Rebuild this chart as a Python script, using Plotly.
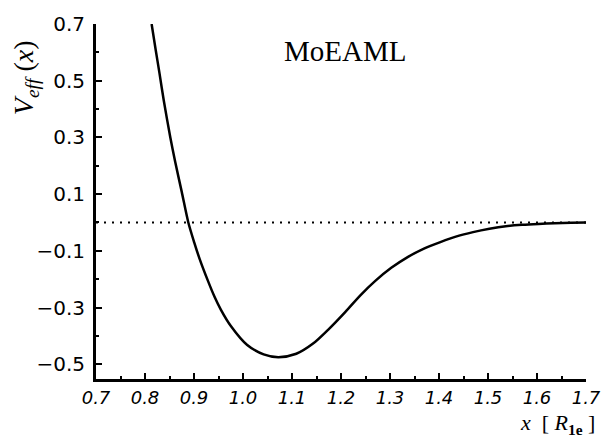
import plotly.graph_objects as go

# Effective potential curve
x_vals = [0.8135, 0.8215, 0.8297, 0.8383, 0.8517, 0.8617, 0.8750, 0.8884, 0.9004, 0.9118,
          0.9285, 0.9419, 0.9550, 0.9752, 1.0086, 1.0421, 1.0721, 1.1088, 1.1423, 1.1756,
          1.2090, 1.2400, 1.2700, 1.3026, 1.3360, 1.3693, 1.4028, 1.4360, 1.4695, 1.5030,
          1.5363, 1.5697, 1.6030, 1.6360, 1.6700, 1.7000]
v_eff = [0.700, 0.612, 0.525, 0.430, 0.300, 0.213, 0.108, 0.000, -0.070, -0.130,
         -0.206, -0.262, -0.308, -0.365, -0.432, -0.465, -0.475, -0.463, -0.428, -0.375,
         -0.315, -0.256, -0.206, -0.160, -0.122, -0.092, -0.069, -0.049, -0.034, -0.022,
         -0.013, -0.008, -0.005, -0.003, -0.001, 0.000]

# Zero reference line
zero_x = [0.7, 1.7]
zero_y = [0.0, 0.0]

x_ticks = [0.7, 0.8, 0.9, 1.0, 1.1, 1.2, 1.3, 1.4, 1.5, 1.6, 1.7]
y_ticks = [0.7, 0.5, 0.3, 0.1, -0.1, -0.3, -0.5]
label_text = "MoEAML"
label_pos = (1.209, 0.605)

fig = go.Figure()
fig.add_trace(go.Scatter(x=zero_x, y=zero_y, mode="lines",
                         line=dict(color="black", width=2, dash="2px,6px"),
                         hoverinfo="skip", showlegend=False))
fig.add_trace(go.Scatter(x=x_vals, y=v_eff, mode="lines",
                         line=dict(color="black", width=2.5, shape="spline", smoothing=0.8),
                         showlegend=False))

fig.add_annotation(x=label_pos[0], y=label_pos[1], xref="x", yref="y",
                   text=label_text, showarrow=False,
                   font=dict(family="Liberation Serif", size=29, color="black"))

fig.add_annotation(xref="paper", yref="paper", x=-0.145, y=0.85,
                   xanchor="center", yanchor="middle",
                   text="<i>V</i><sub><i>eff</i></sub> (<i>x</i>)", textangle=-90,
                   showarrow=False,
                   font=dict(family="Liberation Serif", size=28, color="black"))

fig.add_annotation(xref="paper", yref="paper", x=1.02, y=-0.17,
                   xanchor="right", yanchor="bottom", borderpad=0,
                   text="<i>x</i>  [ <i>R</i><sub><b>1e</b></sub> ]",
                   showarrow=False,
                   font=dict(family="Liberation Serif", size=22, color="black"))

fig.update_layout(
    width=613, height=439,
    margin=dict(l=96, r=18, t=21, b=60),
    plot_bgcolor="white", paper_bgcolor="white",
    showlegend=False,
)
fig.update_xaxes(
    range=[0.7, 1.7], tickvals=x_ticks, ticktext=[f"{v:.1f}" for v in x_ticks],
    showgrid=False, zeroline=False, showline=True, linecolor="black", linewidth=3,
    ticks="inside", ticklen=6, tickwidth=2, tickcolor="black",
    minor=dict(dtick=0.05, tick0=0.7, ticks="inside", ticklen=3, tickwidth=2, tickcolor="black", showgrid=False),
    tickfont=dict(family="DejaVu Sans", size=18, color="black", style="italic"),
    ticklabelstandoff=0,
)
fig.update_yaxes(
    range=[-0.552, 0.7], tickvals=y_ticks, ticktext=[f"{v:.1f}".replace("-", "\u2212") for v in y_ticks],
    showgrid=False, zeroline=False, showline=True, linecolor="black", linewidth=3,
    ticks="inside", ticklen=6, tickwidth=2, tickcolor="black",
    minor=dict(dtick=0.1, tick0=0.0, ticks="inside", ticklen=3, tickwidth=2, tickcolor="black", showgrid=False),
    tickfont=dict(family="DejaVu Sans", size=20, color="black"),
    ticklabelstandoff=4,
)

fig.write_html("out.html")
